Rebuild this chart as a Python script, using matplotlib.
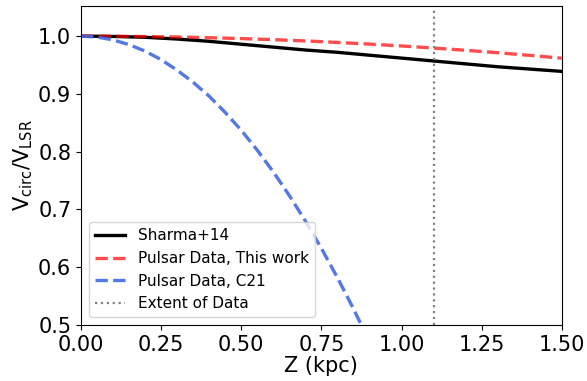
import matplotlib
matplotlib.use("Agg")
import matplotlib.pyplot as plt

z_grid = [0.0, 0.1, 0.2, 0.3, 0.4, 0.5, 0.6, 0.7, 0.8, 0.9, 1.0, 1.1, 1.2, 1.3, 1.4, 1.5]
sharma = [1.0, 0.9995, 0.998, 0.995, 0.991, 0.986, 0.981, 0.976, 0.972, 0.967, 0.962, 0.957, 0.952, 0.947, 0.943, 0.939]
this_work = [1.0, 0.9998, 0.9993, 0.9985, 0.9973, 0.9958, 0.9939, 0.9917, 0.9891, 0.9862, 0.983, 0.9794, 0.9755, 0.9713, 0.9667, 0.9618]
z_c21 = [0.0, 0.05, 0.1, 0.15, 0.2, 0.25, 0.3, 0.35, 0.4, 0.45, 0.5, 0.55, 0.6, 0.65, 0.7, 0.75, 0.8, 0.85, 0.9]
c21 = [1.0, 0.9984, 0.9935, 0.9853, 0.974, 0.9592, 0.941, 0.920, 0.896, 0.8678, 0.837, 0.8025, 0.765, 0.7241, 0.680, 0.6327, 0.582, 0.5282, 0.471]
extent = 1.1

fig = plt.figure(figsize=(5.87, 3.81), dpi=100)
ax = fig.add_axes([0.138, 0.147, 0.819, 0.837])
ax.plot(z_grid, sharma, color='black', lw=2.4, label='Sharma+14')
ax.plot(z_grid, this_work, color='red', alpha=0.7, ls='--', lw=2.4, label='Pulsar Data, This work')
ax.plot(z_c21, c21, color='royalblue', ls='--', lw=2.4, alpha=0.9, label='Pulsar Data, C21')
ax.axvline(extent, color='gray', ls=':', lw=1.6, label='Extent of Data')
ax.set_xlim(0, 1.5)
ax.set_ylim(0.5, 1.052)
ax.set_xticks([0, 0.25, 0.5, 0.75, 1.0, 1.25, 1.5])
ax.set_yticks([0.5, 0.6, 0.7, 0.8, 0.9, 1.0])
ax.tick_params(labelsize=15)
ax.set_xlabel('Z (kpc)', fontsize=15, labelpad=1)
ax.set_ylabel(r'$\mathrm{V_{circ}/V_{LSR}}$', fontsize=15, labelpad=2)
ax.legend(loc='lower left', fontsize=11)
fig.savefig('out.png', dpi=100)
